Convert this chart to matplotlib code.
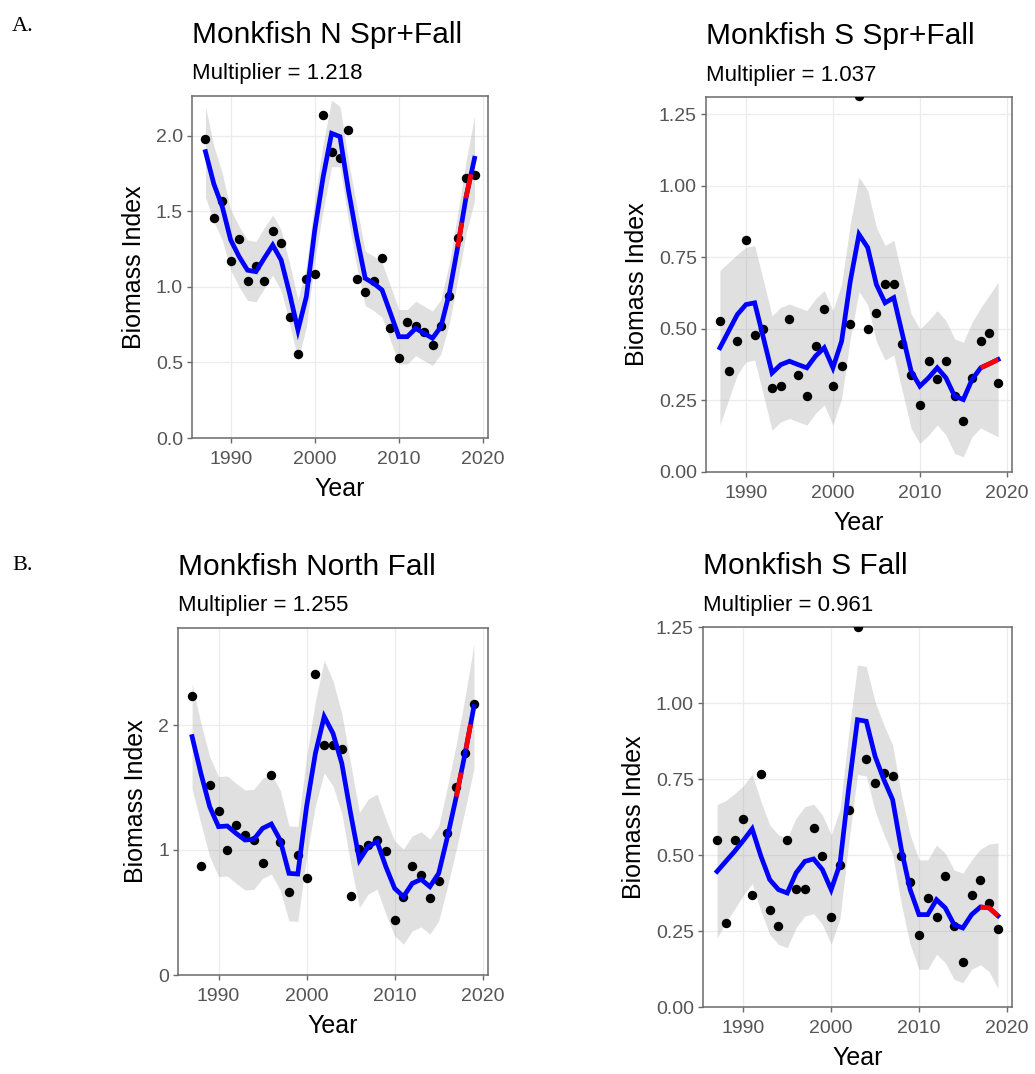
import numpy as np
import matplotlib
matplotlib.use("Agg")
import matplotlib.pyplot as plt

# ---------------- data ----------------
years = list(range(1987, 2020))

titles = ["Monkfish N Spr+Fall", "Monkfish S Spr+Fall", "Monkfish North Fall", "Monkfish S Fall"]
multipliers = ["1.218", "1.037", "1.255", "0.961"]

n_sprfall_obs = [1.98, 1.457, 1.567, 1.173, 1.316, 1.04, 1.14, 1.04, 1.371, 1.29, 0.80, 0.553, 1.05,
                 1.087, 2.136, 1.89, 1.854, 2.037, 1.054, 0.968, 1.04, 1.188, 0.725, 0.527, 0.765,
                 0.741, 0.703, 0.615, 0.74, 0.94, 1.32, 1.72, 1.74]
n_sprfall_fit = [1.894, 1.68, 1.53, 1.31, 1.2, 1.11, 1.10, 1.19, 1.276, 1.177, 0.957, 0.714, 0.935,
                 1.376, 1.728, 2.015, 1.993, 1.64, 1.33, 1.056, 1.023, 0.979, 0.825, 0.67, 0.67,
                 0.725, 0.692, 0.66, 0.736, 0.957, 1.265, 1.596, 1.85]
n_sprfall_se = [0.3, 0.25, 0.22, 0.2, 0.2, 0.2, 0.2, 0.2, 0.2, 0.2, 0.2, 0.2, 0.2, 0.2, 0.22, 0.22,
                0.2, 0.2, 0.2, 0.18, 0.18, 0.18, 0.18, 0.18, 0.18, 0.18, 0.18, 0.18, 0.18, 0.2,
                0.22, 0.24, 0.28]

s_sprfall_obs = [0.527, 0.354, 0.457, 0.81, 0.478, 0.498, 0.292, 0.30, 0.535, 0.338, 0.265, 0.44,
                 0.571, 0.302, 0.37, 0.518, 1.314, 0.50, 0.556, 0.658, 0.658, 0.448, 0.34, 0.233,
                 0.389, 0.326, 0.387, 0.265, 0.177, 0.33, 0.457, 0.486, 0.311]
s_sprfall_fit = [0.434, 0.492, 0.55, 0.585, 0.591, 0.469, 0.346, 0.375, 0.387, 0.375, 0.364, 0.405,
                 0.434, 0.364, 0.457, 0.667, 0.83, 0.784, 0.655, 0.591, 0.609, 0.48, 0.352, 0.30,
                 0.329, 0.364, 0.329, 0.265, 0.253, 0.323, 0.364, 0.378, 0.393]
s_sprfall_se = [0.27, 0.24, 0.21, 0.2, 0.2, 0.2, 0.2, 0.2, 0.2, 0.2, 0.2, 0.2, 0.2, 0.2, 0.2, 0.2,
                0.2, 0.2, 0.2, 0.2, 0.2, 0.2, 0.2, 0.2, 0.2, 0.2, 0.2, 0.2, 0.2, 0.2, 0.21, 0.24,
                0.27]

n_fall_obs = [2.232, 0.872, 1.52, 1.315, 1.0, 1.2, 1.12, 1.08, 0.899, 1.6, 1.067, 0.667, 0.96,
              0.773, 2.408, 1.84, 1.84, 1.805, 0.632, 1.005, 1.04, 1.08, 0.992, 0.44, 0.627,
              0.872, 0.8, 0.613, 0.755, 1.139, 1.507, 1.779, 2.168]
n_fall_fit = [1.907, 1.613, 1.347, 1.187, 1.192, 1.133, 1.08, 1.085, 1.173, 1.208, 1.08, 0.813,
              0.808, 1.347, 1.773, 2.067, 1.933, 1.693, 1.293, 0.92, 1.027, 1.067, 0.867, 0.693,
              0.627, 0.733, 0.765, 0.707, 0.813, 1.107, 1.427, 1.773, 2.147]
n_fall_se = [0.42, 0.4, 0.4, 0.4, 0.4, 0.4, 0.4, 0.4, 0.4, 0.4, 0.4, 0.38, 0.38, 0.4, 0.42, 0.45,
             0.42, 0.4, 0.4, 0.38, 0.38, 0.38, 0.38, 0.38, 0.38, 0.38, 0.38, 0.38, 0.38, 0.4,
             0.42, 0.45, 0.5]

s_fall_obs = [0.548, 0.276, 0.55, 0.618, 0.37, 0.766, 0.318, 0.268, 0.548, 0.388, 0.388, 0.589,
              0.496, 0.296, 0.468, 0.649, 1.25, 0.817, 0.737, 0.77, 0.761, 0.496, 0.41, 0.238,
              0.359, 0.296, 0.43, 0.268, 0.147, 0.37, 0.417, 0.342, 0.257]
s_fall_fit = [0.446, 0.479, 0.512, 0.548, 0.586, 0.496, 0.419, 0.386, 0.375, 0.441, 0.479, 0.487,
              0.452, 0.386, 0.47, 0.72, 0.945, 0.94, 0.825, 0.748, 0.682, 0.518, 0.386, 0.304,
              0.304, 0.353, 0.326, 0.271, 0.26, 0.304, 0.329, 0.326, 0.30]
s_fall_se = [0.22, 0.2, 0.19, 0.18, 0.18, 0.18, 0.18, 0.18, 0.18, 0.18, 0.18, 0.18, 0.18, 0.18,
             0.18, 0.18, 0.18, 0.18, 0.18, 0.18, 0.18, 0.18, 0.18, 0.18, 0.18, 0.18, 0.18, 0.18,
             0.18, 0.18, 0.19, 0.21, 0.24]

recent_start = 2017  # last years highlighted in red

ytick_sets = [[0.0, 0.5, 1.0, 1.5, 2.0],
              [0.0, 0.25, 0.5, 0.75, 1.0, 1.25],
              [0, 1, 2],
              [0.0, 0.25, 0.5, 0.75, 1.0, 1.25]]
ytick_fmt = ["{:.1f}", "{:.2f}", "{:.0f}", "{:.2f}"]
ylims = [(0, 2.262), (0, 1.31), (0, 2.776), (0, 1.25)]
xticks = [1990, 2000, 2010, 2020]

series = [(n_sprfall_obs, n_sprfall_fit, n_sprfall_se),
          (s_sprfall_obs, s_sprfall_fit, s_sprfall_se),
          (n_fall_obs, n_fall_fit, n_fall_se),
          (s_fall_obs, s_fall_fit, s_fall_se)]

# ---------------- layout (pixel boxes: left, top, right, bottom) ----------------
W, H = 1035, 1074
boxes = [(192, 96, 488, 438), (706, 97, 1012, 472), (178, 628, 488, 975), (703, 627, 1012, 1007)]

plt.rcParams['font.family'] = ['Liberation Sans', 'DejaVu Sans']
fig = plt.figure(figsize=(W / 100, H / 100), dpi=100)
fig.patch.set_facecolor('white')

tick_col = '#555555'
frame_col = '#6a6a6a'

yrs = np.array(years, dtype=float)
for i, (box, (obs, fit, se)) in enumerate(zip(boxes, series)):
    l, t, r, b = box
    ax = fig.add_axes([l / W, 1 - b / H, (r - l) / W, (b - t) / H])
    fit_a = np.array(fit)
    se_a = np.array(se)
    ax.fill_between(yrs, fit_a - se_a, fit_a + se_a, color='#9a9a9a', alpha=0.3, lw=0, zorder=1)
    ax.scatter(yrs, obs, s=46, color='black', zorder=3, lw=0)
    ax.plot(yrs, fit_a, color='#0000ff', lw=3.4, zorder=4, solid_joinstyle='miter')
    m = yrs >= recent_start
    ax.plot(yrs[m], fit_a[m], color='#ff0000', lw=3.4, zorder=5, dashes=(5.2, 5.2))

    ax.set_xlim(1985.4, 2020.6)
    ax.set_ylim(*ylims[i])
    ax.set_xticks(xticks)
    ax.set_xticklabels([str(v) for v in xticks])
    ax.set_yticks(ytick_sets[i])
    ax.set_yticklabels([ytick_fmt[i].format(v) for v in ytick_sets[i]])
    ax.grid(True, color='#ececec', lw=0.9, zorder=0)
    ax.set_axisbelow(True)
    for sp in ax.spines.values():
        sp.set_color(frame_col)
        sp.set_linewidth(1.1)
    ax.tick_params(axis='both', direction='out', length=3.5, width=1.0, color=frame_col,
                   labelsize=14, labelcolor=tick_col)
    ax.tick_params(axis='x', pad=6)
    ax.tick_params(axis='y', pad=3)
    ax.set_xlabel('Year', fontsize=18, labelpad=6)
    ax.set_ylabel('Biomass Index', fontsize=18, labelpad=7)

    fig.text(l / W, 1 - (t - 53) / H, titles[i], fontsize=21.5, va='baseline', ha='left')
    fig.text(l / W, 1 - (t - 16.5) / H, 'Multiplier = ' + multipliers[i], fontsize=16,
             va='baseline', ha='left')

fig.text(12 / W, 1 - 31 / H, 'A.', fontsize=16, family=['Liberation Serif', 'DejaVu Serif'],
         va='baseline', ha='left')
fig.text(12 / W, 1 - 570 / H, 'B.', fontsize=16, family=['Liberation Serif', 'DejaVu Serif'],
         va='baseline', ha='left')

fig.savefig('out.png', dpi=100, facecolor='white')
